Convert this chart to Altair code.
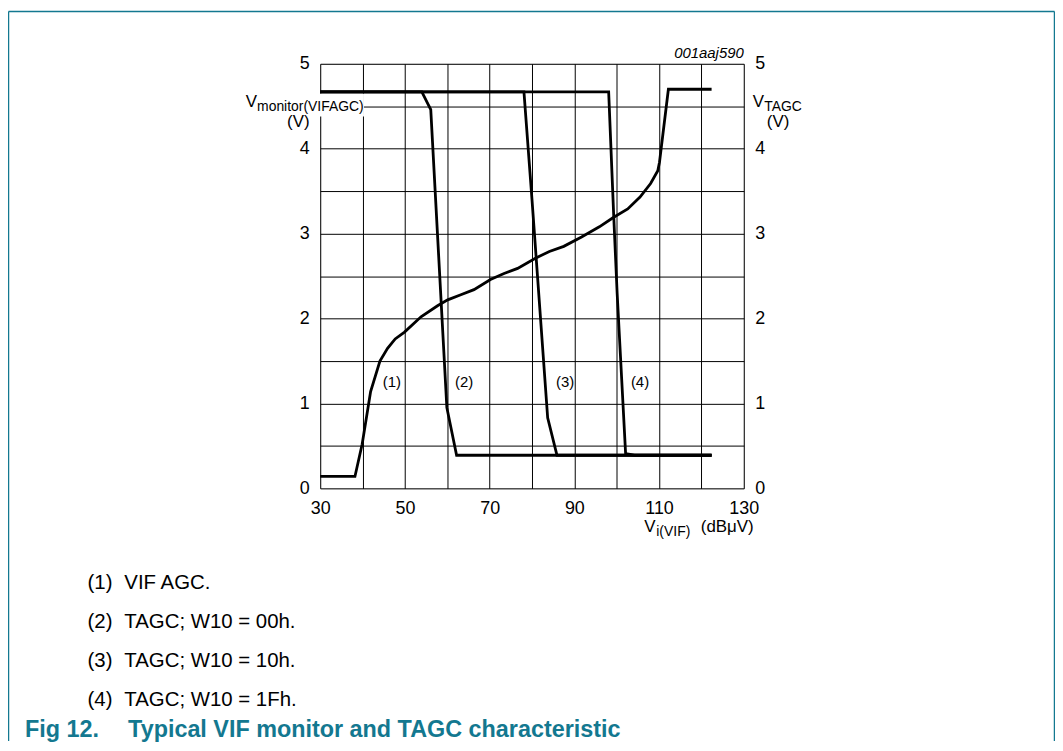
import altair as alt
import pandas as pd

# ---- data ----
vif_x = [30, 38.2, 39.9, 41.9, 44.1, 45.9, 47.7, 49.9, 53.8, 57.7, 60.1, 63.2, 66.3, 70.2,
         73.4, 76.6, 80.8, 84.1, 87.5, 91.7, 95.9, 99.2, 102.6, 105.5, 108.0, 109.7, 110.1,
         112.2, 122.4]
vif_y = [0.14, 0.14, 0.52, 1.14, 1.50, 1.65, 1.76, 1.84, 2.02, 2.15, 2.22, 2.28, 2.34, 2.46,
         2.53, 2.59, 2.71, 2.79, 2.85, 2.96, 3.08, 3.19, 3.29, 3.43, 3.59, 3.74, 3.84,
         4.70, 4.70]
tagc00_x = [30, 54.0, 56.1, 59.9, 62.2, 122.4]
tagc00_y = [4.67, 4.67, 4.46, 0.95, 0.39, 0.39]
tagc10_x = [30, 78.1, 80.0, 83.7, 85.9, 122.4]
tagc10_y = [4.67, 4.67, 3.40, 0.83, 0.39, 0.39]
tagc1f_x = [30, 98.1, 99.3, 100.1, 102.1, 104.2, 122.4]
tagc1f_y = [4.67, 4.67, 3.20, 2.30, 0.41, 0.39, 0.39]

series_names = ["(1)", "(2)", "(3)", "(4)"]
series_x = [vif_x, tagc00_x, tagc10_x, tagc1f_x]
series_y = [vif_y, tagc00_y, tagc10_y, tagc1f_y]
label_x = [46.9, 64.0, 87.8, 105.5]
label_y = [1.25, 1.25, 1.25, 1.25]
caption_lines = ["VIF AGC.", "TAGC; W10 = 00h.", "TAGC; W10 = 10h.", "TAGC; W10 = 1Fh."]
x_ticks = [30, 40, 50, 60, 70, 80, 90, 100, 110, 120, 130]
y_ticks = [0, 0.5, 1, 1.5, 2, 2.5, 3, 3.5, 4, 4.5, 5]

rows = []
for name, xs, ys in zip(series_names, series_x, series_y):
    for i, (xv, yv) in enumerate(zip(xs, ys)):
        rows.append({"series": name, "i": i, "x": xv, "y": yv})
df = pd.DataFrame(rows)
lab_df = pd.DataFrame({"x": label_x, "y": label_y, "t": series_names})

FONT = "Liberation Sans"
TEAL = "#137890"
W, H = 426, 427

xscale = alt.Scale(domain=[30, 130], nice=False, zero=False)
yscale = alt.Scale(domain=[0, 5], nice=False, zero=False)

xaxis = alt.Axis(values=x_ticks, labelExpr="datum.value % 20 == 10 ? format(datum.value, 'd') : ''",
                 title=None, ticks=False, domain=False, grid=True, gridColor="black",
                 gridOpacity=1, gridWidth=1, labelFontSize=18, labelColor="black",
                 labelPadding=11, labelFlush=False, labelOverlap=False, labelFont=FONT)
yaxis_l = alt.Axis(values=y_ticks, labelExpr="datum.value % 1 == 0 ? format(datum.value, 'd') : ''",
                   title=None, ticks=False, domain=False, grid=True, gridColor="black",
                   gridOpacity=1, gridWidth=1, labelFontSize=18, labelColor="black",
                   labelPadding=11, labelFlush=False, labelOverlap=False, labelFont=FONT)
yaxis_r = alt.Axis(values=y_ticks, labelExpr="datum.value % 1 == 0 ? format(datum.value, 'd') : ''",
                   title=None, ticks=False, domain=False, grid=False, orient="right",
                   labelFontSize=18, labelColor="black", labelPadding=11,
                   labelFlush=False, labelOverlap=False, labelFont=FONT)

one = pd.DataFrame({"a": [0]})


def txt(text, x, y, size, align="left", weight="normal", style="normal", color="black"):
    return alt.Chart(one).mark_text(text=text, align=align, baseline="alphabetic",
                                    fontSize=size, font=FONT, fontWeight=weight,
                                    fontStyle=style, color=color).encode(
        x=alt.value(x), y=alt.value(y))


# white box behind the left axis title that hides the grid and frame under it
bg = alt.Chart(one).mark_rect(color="white").encode(
    x=alt.value(-62), x2=alt.value(44), y=alt.value(30), y2=alt.value(53))

lines = alt.Chart(df).mark_line(color="black", strokeWidth=2.8).encode(
    x=alt.X("x:Q", scale=xscale, axis=xaxis),
    y=alt.Y("y:Q", scale=yscale, axis=yaxis_l),
    detail="series:N",
    order="i:Q",
)

labels = alt.Chart(lab_df).mark_text(fontSize=15, font=FONT, color="black",
                                     align="center", baseline="middle").encode(
    x=alt.X("x:Q", scale=xscale, axis=xaxis), y=alt.Y("y:Q", scale=yscale, axis=yaxis_l),
    text="t:N")

texts = [
    txt("001aaj590", 426, -6, 15, align="right", style="italic"),
    txt("V", -75, 43, 17),
    txt("monitor(VIFAGC)", -63.5, 47, 14),
    txt("(V)", -22, 63.5, 17, align="center"),
    txt("V", 435, 43, 17),
    txt("TAGC", 446.5, 47, 14),
    txt("(V)", 460.5, 63.5, 17, align="center"),
    txt("V", 326, 471, 17),
    txt("i(VIF)", 338, 475, 14),
    txt("(dBμV)", 436, 471, 17, align="right"),
]
cap_y = [528.5, 567.5, 606.5, 645.5]
for name, line, yy in zip(series_names, caption_lines, cap_y):
    texts.append(txt(name, -234, yy, 20.5))
    texts.append(txt(line, -197, yy, 20.5))
texts.append(txt("Fig 12.", -297, 677, 23.5, weight="bold", color=TEAL))
texts.append(txt("Typical VIF monitor and TAGC characteristic", 302, 677, 23.5,
                 align="right", weight="bold", color=TEAL))

border = [
    alt.Chart(one).mark_rule(color=TEAL, strokeWidth=1.5).encode(
        x=alt.value(-313.5), y=alt.value(-52.5), y2=alt.value(681)),
    alt.Chart(one).mark_rule(color=TEAL, strokeWidth=1.5).encode(
        x=alt.value(-313.5), x2=alt.value(738.5), y=alt.value(-52.5)),
    alt.Chart(one).mark_rule(color=TEAL, strokeWidth=1.5).encode(
        x=alt.value(738.5), y=alt.value(-52.5), y2=alt.value(681)),
]

left = alt.layer(bg, lines, labels, *texts, *border)
right = alt.Chart(df).mark_line(opacity=0).encode(
    x=alt.X("x:Q", scale=xscale, axis=xaxis),
    y=alt.Y("y:Q", scale=yscale, axis=yaxis_r),
    detail="series:N",
)

chart = alt.layer(left, right).resolve_scale(y="independent").properties(
    width=W, height=H,
    autosize=alt.AutoSizeParams(type="none"),
    padding={"left": 314, "top": 54, "right": 313, "bottom": 254},
    background="white",
).configure_view(stroke="black", strokeWidth=1).configure(font=FONT)

chart.save("out.html", embed_options={"renderer": "svg", "actions": False})
